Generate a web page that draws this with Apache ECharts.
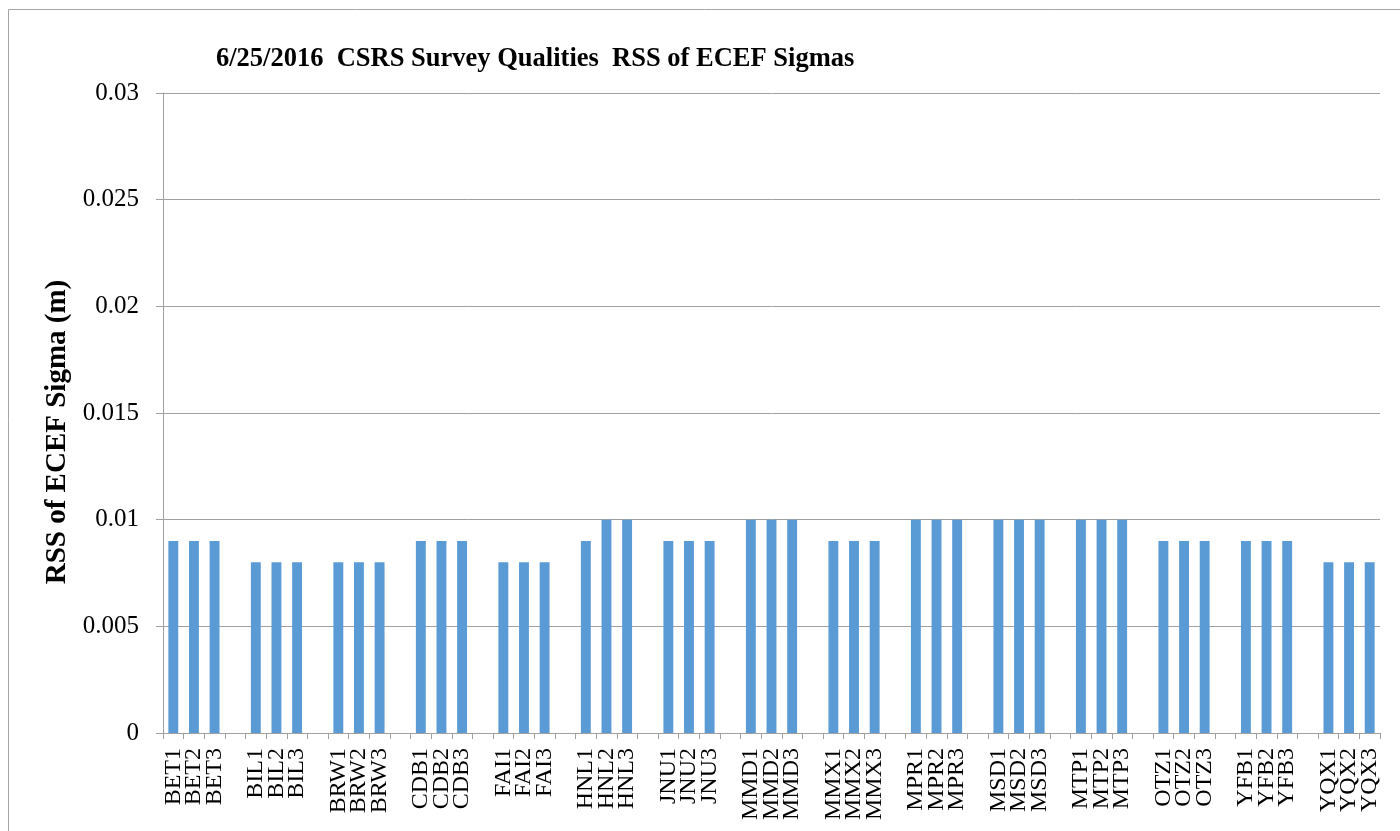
<!DOCTYPE html>
<html><head><meta charset="utf-8">
<script src="https://cdn.jsdelivr.net/npm/echarts@6/dist/echarts.min.js"></script>
<style>html,body{margin:0;padding:0;background:#fff}#c{width:1400px;height:831px}</style>
</head><body><div id="c"></div>
<script>
const stations = ['BET','BIL','BRW','CDB','FAI','HNL','JNU','MMD','MMX','MPR','MSD','MTP','OTZ','YFB','YQX'];
const sigmas = [
  [0.009,0.009,0.009],
  [0.008,0.008,0.008],
  [0.008,0.008,0.008],
  [0.009,0.009,0.009],
  [0.008,0.008,0.008],
  [0.009,0.010,0.010],
  [0.009,0.009,0.009],
  [0.010,0.010,0.010],
  [0.009,0.009,0.009],
  [0.010,0.010,0.010],
  [0.010,0.010,0.010],
  [0.010,0.010,0.010],
  [0.009,0.009,0.009],
  [0.009,0.009,0.009],
  [0.008,0.008,0.008]
];
const yTicks = [0, 0.005, 0.01, 0.015, 0.02, 0.025, 0.03];

const categories = [], values = [];
stations.forEach((s, i) => {
  sigmas[i].forEach((v, j) => { categories.push(s + (j + 1)); values.push(v); });
  if (i < stations.length - 1) { categories.push(' '.repeat(i + 1)); values.push(null); }
});

const chart = echarts.init(document.getElementById('c'), null, {renderer: 'canvas'});
const serif = 'Liberation Serif';
chart.setOption({
  animation: false,
  graphic: [{type: 'rect', shape: {x: 8.5, y: 9.5, width: 1400, height: 840}, style: {fill: 'none', stroke: '#a6a6a6', lineWidth: 1}, silent: true}],
  title: {text: '6/25/2016  CSRS Survey Qualities  RSS of ECEF Sigmas', left: 211, top: 41,
    textStyle: {fontFamily: serif, fontWeight: 'bold', fontSize: 26.5, color: '#000'}},
  grid: {left: 163, right: 20, top: 93, bottom: 98, containLabel: false, outerBoundsMode: 'none'},
  xAxis: {type: 'category', data: categories, boundaryGap: true,
    axisLine: {lineStyle: {color: '#a0a0a0', width: 1}},
    axisTick: {show: true, length: 6, interval: 0, lineStyle: {color: '#a0a0a0'}},
    axisLabel: {interval: 0, rotate: 90, fontFamily: serif, fontSize: 24, color: '#000', margin: 15}},
  yAxis: {type: 'value', min: yTicks[0], max: yTicks[yTicks.length - 1], interval: 0.005,
    name: 'RSS of ECEF Sigma (m)', nameLocation: 'middle', nameGap: 87,
    nameTextStyle: {fontFamily: serif, fontWeight: 'bold', fontSize: 29, color: '#000', padding: [0, 38, 0, 0]},
    axisLine: {show: true, lineStyle: {color: '#a0a0a0'}},
    axisTick: {show: true, length: 7, lineStyle: {color: '#a0a0a0'}},
    splitLine: {lineStyle: {color: '#a0a0a0', width: 1}},
    axisLabel: {fontFamily: serif, fontSize: 25, color: '#000', margin: 24,
      formatter: v => String(+v.toFixed(4))}},
  series: [{type: 'bar', data: values, barWidth: '48%', itemStyle: {color: '#5b9bd5'}}]
});
</script></body></html>
